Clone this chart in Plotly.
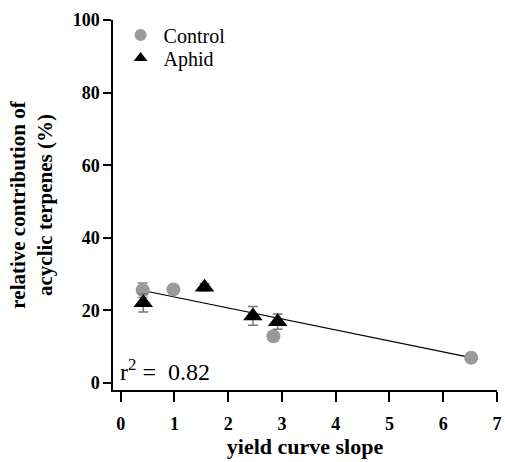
import plotly.graph_objects as go

# Data
control_x = [0.41, 0.98, 2.84, 6.52]
control_y = [25.6, 25.8, 12.9, 7.0]
control_err = [2.0, 1.0, 1.2, 0.8]

aphid_x = [0.42, 1.56, 2.46, 2.92]
aphid_y = [22.1, 26.4, 18.5, 16.9]
aphid_err = [2.5, 1.0, 2.6, 2.1]

fit_x = [0.41, 6.52]
fit_y = [25.5, 7.0]
r2_label = "r<sup>2</sup> = &nbsp;0.82"

serif = "Liberation Serif"

fig = go.Figure()
fig.add_trace(go.Scatter(x=fit_x, y=fit_y, mode="lines",
                         line=dict(color="black", width=1.2), showlegend=False))
fig.add_trace(go.Scatter(
    x=control_x, y=control_y, mode="markers", name="Control", legend="legend",
    marker=dict(symbol="circle", size=14, color="#9a9a9a"),
    error_y=dict(type="data", array=control_err, color="#8a8a8a", thickness=1.5, width=5)))
fig.add_trace(go.Scatter(
    x=aphid_x, y=aphid_y, mode="markers", name="Aphid", legend="legend2",
    marker=dict(symbol="triangle-up", size=17, color="black"),
    error_y=dict(type="data", array=aphid_err, color="#777777", thickness=1.5, width=5)))

fig.add_annotation(text=r2_label, xref="paper", yref="y", x=0.012, y=3.5,
                   xanchor="left", yanchor="middle", showarrow=False,
                   font=dict(family=serif, size=24, color="black"))

legend_style = dict(xanchor="left", yanchor="middle",
                    font=dict(family=serif, size=20, color="black"),
                    bgcolor="rgba(0,0,0,0)", itemsizing="constant", itemwidth=36)

fig.update_layout(
    width=505, height=462,
    margin=dict(l=113, r=8, t=20, b=72),
    paper_bgcolor="white", plot_bgcolor="white",
    font=dict(family=serif, color="black"),
    legend=dict(x=0.012, y=(390 - 35) / 370, **legend_style),
    legend2=dict(x=0.012, y=(390 - 58) / 370, **legend_style),
    xaxis=dict(range=[-0.143, 7.0], tickvals=[0, 1, 2, 3, 4, 5, 6, 7],
               showline=True, linecolor="black", linewidth=1.5,
               ticks="outside", ticklen=10, tickwidth=1.5, tickcolor="black",
               ticklabelstandoff=7, automargin=False,
               showgrid=False, zeroline=False,
               tickfont=dict(family=serif, size=18, color="black", weight="bold"),
               title=dict(text="<b>yield curve slope</b>", standoff=2,
                          font=dict(family=serif, size=22, color="black"))),
    yaxis=dict(range=[-1.9, 100], tickvals=[0, 20, 40, 60, 80, 100],
               showline=True, linecolor="black", linewidth=1.5,
               ticks="outside", ticklen=8, tickwidth=1.5, tickcolor="black",
               showgrid=False, zeroline=False,
               tickfont=dict(family=serif, size=18, color="black", weight="bold"),
               title=dict(text="<b>relative contribution of<br>acyclic terpenes (%)</b>",
                          standoff=14,
                          font=dict(family=serif, size=21, color="black"))),
)

fig.write_html("out.html")
